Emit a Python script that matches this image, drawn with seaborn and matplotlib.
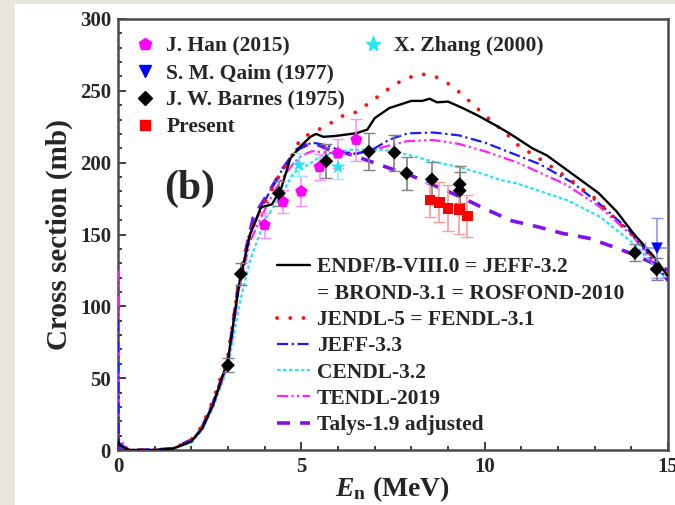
import numpy as np
import pandas as pd
import seaborn as sns
import matplotlib.pyplot as plt
from matplotlib.lines import Line2D
from matplotlib.patches import Rectangle
from matplotlib.ticker import MultipleLocator

# ---- evaluated cross sections ----
endf_e = [0, 0.05, 0.3, 1.0, 1.5, 2.0, 2.3, 2.6, 3.0, 3.3, 3.6, 3.9, 4.2, 4.45, 4.7, 5.0, 5.25, 5.4,
          5.6, 5.9, 6.2, 6.5, 6.8, 7.0, 7.4, 8.0, 8.3, 8.5, 8.7, 9.0, 9.4, 9.8, 10.3, 10.7, 11.3,
          11.7, 12.4, 13.1, 13.6, 14.05, 14.6, 15.0]
endf_s = [7, 3, 0, 0, 1, 6, 15, 32, 63, 115, 150, 169, 171, 182, 203, 212, 218, 220,
          218, 218.5, 219.5, 220.5, 223, 231, 238, 243, 243, 244.5, 242, 242.5, 238, 233, 226, 220, 210,
          205, 192, 179, 166, 151, 135, 121]

jendl_e = [0, 0.05, 0.3, 1.0, 1.5, 2.0, 2.3, 2.6, 3.0, 3.3, 3.6, 3.9, 4.05, 4.33, 4.55, 4.78, 4.96,
           5.33, 5.69, 6.05, 6.46, 6.8, 7.14, 7.49, 7.85, 8.28, 8.65, 9.04, 9.37, 9.96, 10.32, 10.64,
           10.96, 11.3, 11.66, 12.0, 12.37, 12.69, 13.05, 13.32, 13.64, 13.94, 14.21, 14.6, 15.0]
jendl_s = [5, 2, 0, 0, 1, 7, 17, 35, 66, 117, 151, 167, 174, 188, 197, 206.5, 216,
           221.6, 225.5, 232, 234.8, 240.6, 247, 253.4, 258.7, 261.7, 260, 254.5, 247.8, 234, 226, 219,
           211, 206, 200, 194, 187.5, 181, 174.5, 167, 159, 152, 145, 134, 121]

jeff33_e = [0, 0.02, 0.3, 1.0, 1.5, 2.0, 2.3, 2.6, 3.0, 3.3, 3.6, 3.9, 4.2, 4.5, 4.8, 5.0, 5.3, 5.7,
            6.1, 6.5, 7.0, 7.4, 7.9, 8.6, 9.3, 10.0, 10.9, 11.5, 12.4, 13.1, 13.9, 14.4, 15.0]
jeff33_s = [90, 5, 0, 0, 1, 6, 16, 33, 62, 116, 150, 168, 183, 196, 206, 211, 214, 212,
            208, 206, 210, 216, 220.4, 221, 219, 214, 205, 199, 186, 172, 154, 139, 118]

cendl_e = [0, 0.02, 0.3, 1.0, 1.5, 2.0, 2.3, 2.6, 3.0, 3.3, 3.6, 4.0, 4.42, 4.78, 5.24, 5.5, 5.87,
           6.33, 7.24, 7.69, 8.6, 9.3, 10.05, 10.42, 10.87, 12.24, 13.14, 14.05, 14.5, 15.0]
cendl_s = [6, 3, 0, 0, 1, 5, 14, 30, 58, 100, 132, 160, 176, 192.6, 199.5, 204, 206.5,
           209, 209, 207, 200.7, 197, 191.4, 188, 185.6, 174, 162.4, 143.9, 132, 117]

tendl_e = [0, 0.01, 0.3, 1.0, 1.5, 2.0, 2.3, 2.6, 3.0, 3.3, 3.6, 3.9, 4.2, 4.5, 4.8, 5.0, 5.3, 5.7,
           6.2, 6.8, 7.4, 7.9, 8.6, 9.3, 10.0, 10.9, 12.2, 13.1, 14.05, 15.0]
tendl_s = [125, 8, 0, 0, 1, 6, 15, 31, 60, 112, 145, 162, 177, 190, 200, 205, 208, 207,
           206, 207.6, 212, 215, 215.8, 213, 208, 200, 185, 170, 148.5, 117]

talys_e = [0, 0.02, 0.3, 1.0, 1.5, 2.0, 2.3, 2.6, 3.0, 3.3, 3.69, 4.15, 4.5, 4.87, 5.24, 5.5, 5.87,
           6.23, 6.78, 7.42, 7.96, 8.6, 9.33, 10.0, 10.73, 11.44, 12.12, 12.84, 13.5, 14.1, 14.87, 15.0]
talys_s = [5, 2, 0, 0, 1, 7, 16, 33, 62, 118, 162, 181, 196, 209, 213.5, 212, 207.6,
           206.5, 201.8, 196, 191.4, 184.4, 176.3, 168, 159.6, 155.4, 150.8, 147.4, 141.5, 135.7, 126.7, 125]

# ---- measurements ----
han_e = [4.0, 4.5, 5.0, 5.5, 6.0, 6.5]
han_s = [156.6, 172.8, 180, 197, 206.5, 216]
han_err = [8.7, 8, 10.4, 9.3, 10, 14.5]

zhang_e = [4.93, 6.0]
zhang_s = [198.5, 197]
zhang_err = [8, 8.7]

qaim_e = [14.7]
qaim_s = [140.4]
qaim_err = [21]
qaim_xerr = [0.32]

barnes_e = [3.0, 3.35, 4.39, 5.68, 6.84, 7.54, 7.87, 8.56, 9.32, 9.32, 14.1, 14.69]
barnes_s = [59, 122.5, 178.7, 201, 207.7, 207, 192.6, 188.4, 185, 180.5, 137.3, 125.8]
barnes_err = [5, 7.7, 8.7, 12, 12.8, 12.5, 11.6, 12, 13, 13, 6, 7.5]

present_e = [8.51, 8.76, 9.0, 9.31, 9.53]
present_s = [174, 172.4, 168.2, 167.5, 162.9]
present_err = [12, 14, 16, 17, 14.5]

sns.set_style('ticks')
plt.rcParams['font.family'] = ['Liberation Serif', 'DejaVu Serif']
plt.rcParams['font.weight'] = 'bold'
plt.rcParams['axes.labelweight'] = 'bold'
plt.rcParams['mathtext.fontset'] = 'custom'
plt.rcParams['mathtext.rm'] = 'Liberation Serif:bold'
plt.rcParams['mathtext.it'] = 'Liberation Serif:italic:bold'
plt.rcParams['mathtext.bf'] = 'Liberation Serif:bold'

fig = plt.figure(figsize=(6.75, 5.05), dpi=100, facecolor='#e8e4de')
fig.add_artist(Rectangle((15 / 675, 0), 1, 1 - 4 / 505, transform=fig.transFigure,
                         facecolor='white', edgecolor='none', zorder=-5))
ax = fig.add_axes([118 / 675, 1 - 450 / 505, 550 / 675, 431 / 505])

styles = {
    'endf': dict(color='black', linestyle='-', linewidth=1.7),
    'jendl': dict(color='#ff1010', linestyle=(0, (0.01, 3.4)), linewidth=2.8, dash_capstyle='round'),
    'jeff': dict(color='#1a1aff', linestyle=(0, (5, 1.6, 1, 1.6)), linewidth=1.6),
    'cendl': dict(color='#22e6f0', linestyle=(0, (1.6, 1.1)), linewidth=1.6),
    'tendl': dict(color='#ff22ff', linestyle=(0, (5, 1.5, 1, 1.5, 1, 1.5)), linewidth=1.6),
    'talys': dict(color='#8010f0', linestyle=(0, (3.6, 2.8)), linewidth=2.6),
}

curves = [('talys', talys_e, talys_s), ('cendl', cendl_e, cendl_s), ('tendl', tendl_e, tendl_s),
          ('jeff', jeff33_e, jeff33_s), ('jendl', jendl_e, jendl_s), ('endf', endf_e, endf_s)]
for key, e, s in curves:
    sns.lineplot(x=e, y=s, ax=ax, estimator=None, sort=False, legend=False, zorder=3, **styles[key])

# error bars then markers
ax.errorbar(han_e, han_s, yerr=han_err, fmt='none', ecolor='#ff90ff', elinewidth=1.2, capsize=4, zorder=4)
ax.errorbar(zhang_e, zhang_s, yerr=zhang_err, fmt='none', ecolor='#90f4f8', elinewidth=1.2, capsize=4, zorder=4)
ax.errorbar(qaim_e, qaim_s, yerr=qaim_err, xerr=qaim_xerr, fmt='none', ecolor='#9090ff', elinewidth=1.2,
            capsize=4, zorder=4)
ax.errorbar(barnes_e, barnes_s, yerr=barnes_err, fmt='none', ecolor='#808080', elinewidth=1.2, capsize=4, zorder=4)
ax.errorbar(present_e, present_s, yerr=present_err, fmt='none', ecolor='#ff9a9a', elinewidth=1.2, capsize=4,
            zorder=4)

sns.scatterplot(x=han_e, y=han_s, ax=ax, marker='p', s=85, color='#ff00ff', edgecolor='none', zorder=5)
sns.scatterplot(x=zhang_e, y=zhang_s, ax=ax, marker='*', s=120, color='#22e6f0', edgecolor='none', zorder=5)
sns.scatterplot(x=qaim_e, y=qaim_s, ax=ax, marker='v', s=70, color='#0000ff', edgecolor='none', zorder=5)
sns.scatterplot(x=barnes_e, y=barnes_s, ax=ax, marker='D', s=50, color='black', edgecolor='none', zorder=5)
sns.scatterplot(x=present_e, y=present_s, ax=ax, marker='s', s=60, color='#ff0000', edgecolor='none', zorder=5)

ax.set_xlim(0, 15)
ax.set_ylim(0, 300)
ax.xaxis.set_major_locator(MultipleLocator(5))
ax.xaxis.set_minor_locator(MultipleLocator(1))
ax.yaxis.set_major_locator(MultipleLocator(50))
ax.yaxis.set_minor_locator(MultipleLocator(10))
ax.tick_params(which='both', direction='in', top=False, right=False, width=1.4, color='#404040',
               labelsize=15)
ax.tick_params(which='major', length=6, pad=5)
ax.tick_params(which='minor', length=3)
for sp in ax.spines.values():
    sp.set_linewidth(1.8)
    sp.set_color('#4a4a4a')

ax.set_xlabel(r'$E_\mathrm{n}$ (MeV)', fontsize=20, fontweight='bold', labelpad=-2)
ax.set_ylabel('Cross section (mb)', fontsize=21, fontweight='bold', labelpad=5)
ax.text(1.94, 182, '(b)', fontsize=30, fontweight='bold', ha='center', va='center')

# legend of measurements
blank = Line2D([], [], linestyle='none')
mk = [Line2D([], [], marker='p', ms=9, color='#ff00ff', ls='none'),
      Line2D([], [], marker='v', ms=8, color='#0000ff', ls='none'),
      Line2D([], [], marker='D', ms=7, color='black', ls='none'),
      Line2D([], [], marker='s', ms=7, color='#ff0000', ls='none'),
      Line2D([], [], marker='*', ms=11, color='#22e6f0', ls='none'),
      blank, blank, blank]
mk_labels = ['J. Han (2015)', 'S. M. Qaim (1977)', 'J. W. Barnes (1975)', 'Present',
             'X. Zhang (2000)', '', '', '']
leg1 = ax.legend(mk, mk_labels, ncol=2, loc='upper left', bbox_to_anchor=(0.025, 0.96), frameon=False,
                 prop={'size': 15.5, 'weight': 'bold'}, handlelength=1.2, handletextpad=0.4,
                 columnspacing=0.68, labelspacing=0.32, borderpad=0, borderaxespad=0)
ax.add_artist(leg1)

# legend of evaluations
ln = [Line2D([], [], **styles['endf']), blank, Line2D([], [], **styles['jendl']),
      Line2D([], [], **styles['jeff']), Line2D([], [], **styles['cendl']),
      Line2D([], [], **styles['tendl']), Line2D([], [], **styles['talys'])]
ln_labels = ['ENDF/B-VIII.0 = JEFF-3.2', '= BROND-3.1 = ROSFOND-2010', 'JENDL-5 = FENDL-3.1',
             'JEFF-3.3', 'CENDL-3.2', 'TENDL-2019', 'Talys-1.9 adjusted']
ax.legend(ln, ln_labels, loc='upper left', bbox_to_anchor=(0.289, 0.447), frameon=False,
          prop={'size': 15.5, 'weight': 'bold'}, handlelength=1.55, handletextpad=0.3,
          labelspacing=0.29, borderpad=0, borderaxespad=0)

fig.savefig('out.png', dpi=100, facecolor=fig.get_facecolor())
